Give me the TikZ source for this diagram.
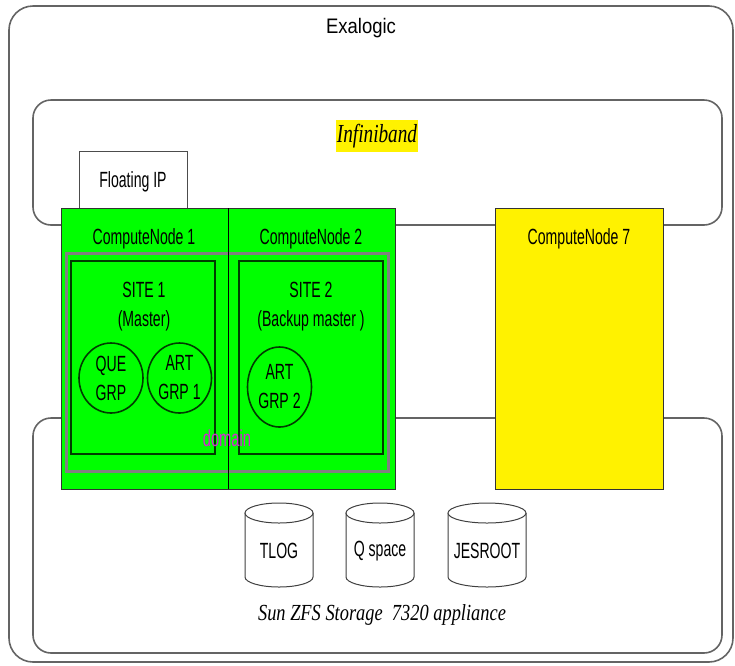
\documentclass[tikz,border=0pt]{standalone}
\usepackage{fontspec}
\setmainfont{Liberation Sans}
\newfontfamily\narrowfont{Liberation Sans}[FakeStretch=0.64]
\newfontfamily\titlefont{Liberation Sans}[FakeStretch=0.88]
\newfontfamily\storefont{Liberation Serif}[FakeStretch=0.8]
\newfontfamily\bandfont{Liberation Serif}[FakeStretch=0.74]
\definecolor{nodegreen}{RGB}{0,255,0}
\definecolor{sitegreen}{RGB}{0,60,0}
\definecolor{framegray}{RGB}{100,100,100}
\definecolor{domainpink}{RGB}{210,40,210}
\begin{document}
\begin{tikzpicture}[x=1pt,y=-1pt,
  frame/.style={draw=framegray, line width=1.6pt, rounded corners=18pt},
  lbl/.style={font=\narrowfont\fontsize{22}{29}\selectfont, align=center, inner sep=0pt},
  sitebox/.style={draw=sitegreen, line width=2pt},
  grp/.style={draw=sitegreen, line width=1.6pt},
  drum/.style={draw=black!75, line width=1pt, fill=white}]

\useasboundingbox (0,0) rectangle (735,665);

% outer frames
\draw [frame, rounded corners=24pt] (9,6) rectangle (733,662);
\node [font=\titlefont\fontsize{21}{24}\selectfont, inner sep=0pt] (exalogic) at (361,28) {Exalogic};

\draw [frame] (33,100) rectangle (722,225);
\node [font=\bandfont\itshape\fontsize{26}{30}\selectfont, fill=yellow, inner xsep=1pt, inner ysep=4pt] (infiniband) at (377,136) {Infiniband};

\draw [frame] (33,418) rectangle (722,653);

\draw [draw=black!70, line width=1pt, fill=white] (79,151) rectangle (187,208);
\node [lbl] (floatip) at (133,182) {Floating IP};

% compute nodes
\draw [draw=black!80, line width=1pt, fill=nodegreen] (61,208) rectangle (395,489);
\draw [draw=black!80, line width=1pt, fill=yellow] (495,208) rectangle (663,489);

\draw [draw=gray, line width=3pt] (66,253) rectangle (388,471);
\draw [black, line width=1pt] (228,208) -- (228,489);

\node [lbl] (cn1) at (144,239) {ComputeNode 1};
\node [lbl] (cn2) at (311,239) {ComputeNode 2};
\node [lbl] (cn7) at (579,239) {ComputeNode 7};

% sites
\draw [sitebox] (71,261) rectangle (215,454);
\draw [sitebox] (239,261) rectangle (383,454);
\node [lbl] (site1) at (144,307) {SITE 1\\(Master)};
\node [lbl] (site2) at (311,307) {SITE 2\\(Backup master )};

\draw [grp] (111,378) ellipse (32 and 35);
\draw [grp] (179.5,378) ellipse (32 and 35);
\draw [grp] (279.5,387) ellipse (32 and 40);
\node [lbl] (quegrp) at (111,378) {QUE\\GRP};
\node [lbl] (artgrp1) at (179.5,378) {ART\\GRP 1};
\node [lbl] (artgrp2) at (279.5,387) {ART\\GRP 2};

\node [lbl, text=domainpink, font=\narrowfont\fontsize{23}{26}\selectfont] (domain) at (227,438) {domain};

% storage drums
\foreach \cx/\rx/\name/\txt in {279/34/tlog/TLOG, 380/34/qspace/Q space, 487/39/jesroot/JESROOT} {
  \draw [drum] (\cx-\rx,513) -- (\cx-\rx,577) arc (180:360:\rx pt and 10pt) -- (\cx+\rx,513);
  \draw [drum] (\cx,513) ellipse (\rx pt and 10pt);
  \node [lbl] (\name) at (\cx,551) {\txt};
}

\node [font=\storefont\itshape\fontsize{23}{26}\selectfont, inner sep=0pt] (zfs) at (382,615) {Sun ZFS Storage\ \ 7320 appliance};
\end{tikzpicture}
\end{document}
